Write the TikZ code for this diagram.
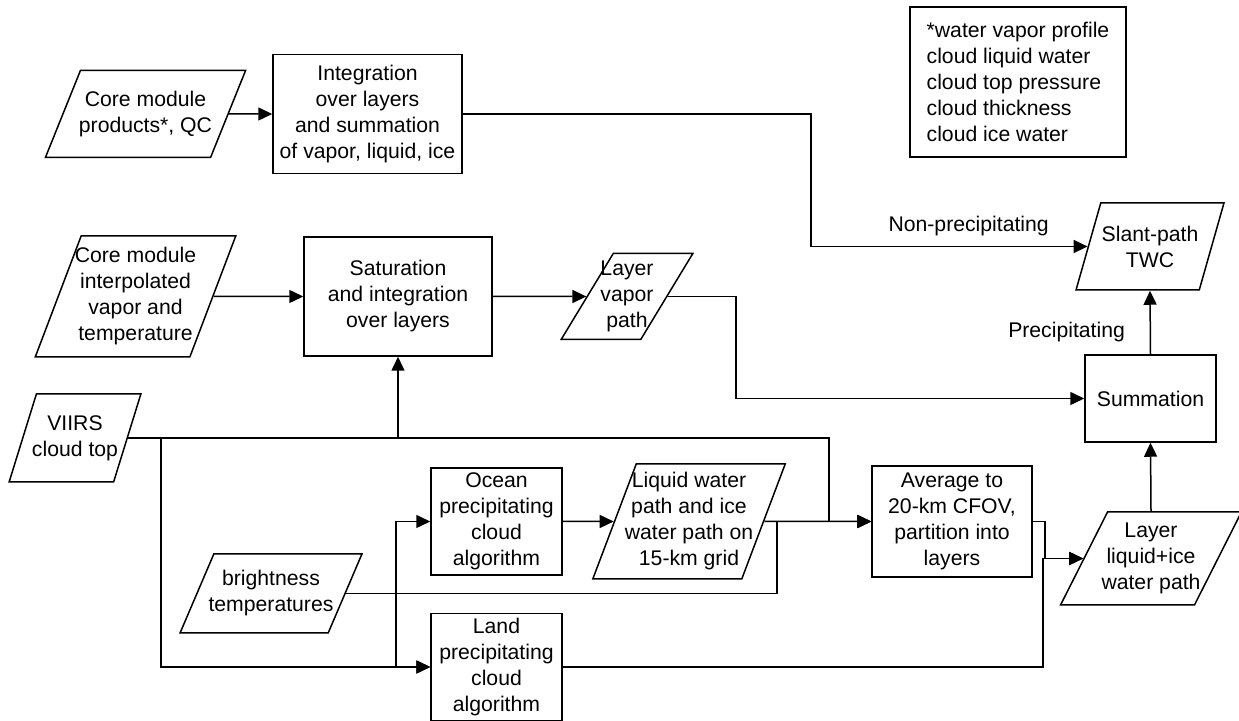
\documentclass[tikz,border=0pt]{standalone}
\usepackage{fontspec}
\setmainfont{Liberation Sans}
\usetikzlibrary{arrows.meta,shapes.geometric}

\begin{document}
\begin{tikzpicture}[
  x=0.5pt, y=-0.5pt,
  every node/.style={font=\fontsize{10.6}{13}\selectfont},
  procbox/.style={rectangle, draw, line width=0.75pt, align=center, inner sep=2pt},
  data/.style={trapezium, trapezium stretches=true, trapezium left angle=#1,
               trapezium right angle={180-#1}, draw, line width=0.75pt,
               align=center, inner xsep=-10pt, inner ysep=2pt},
  flow/.style={-{Triangle[length=7pt, width=6.5pt]}, line width=0.75pt},
]
\useasboundingbox (0,0) rectangle (1239,721);

\node[data=65, minimum width=100.5pt, minimum height=43.5pt] (prod) at (145.5,114) {Core module\\products*, QC};
\node[procbox, minimum width=94.5pt, minimum height=59.5pt] (integ) at (367.5,114) {Integration\\over layers\\and summation\\of vapor, liquid, ice};
\node[data=72, minimum width=100.5pt, minimum height=60.5pt] (interp) at (135.5,296.5) {Core module\\interpolated\\vapor and\\temperature};
\node[procbox, minimum width=94pt, minimum height=59.5pt] (satur) at (398,296.5) {Saturation\\and integration\\over layers};
\node[data=72.6, minimum width=66pt, minimum height=43pt] (lvap) at (627,296.5) {Layer\\vapor\\path};
\node[data=74, minimum width=74pt, minimum height=43.5pt] (slant) at (1150,246.5) {Slant-path\\TWC};
\node[procbox, minimum width=65.5pt, minimum height=43.5pt] (summ) at (1150.5,398.5) {Summation};
\node[data=73, minimum width=66pt, minimum height=44pt] (viirs) at (75,438) {VIIRS\\cloud top};
\node[procbox, minimum width=65.5pt, minimum height=53.5pt] (ocean) at (496.5,521.5) {Ocean\\precipitating\\cloud\\algorithm};
\node[data=71, minimum width=97pt, minimum height=57.5pt] (lwp) at (689,521.5) {Liquid water\\path and ice\\water path on\\15-km grid};
\node[procbox, minimum width=80pt, minimum height=55.5pt] (avg) at (952,521.5) {Average to\\20-km CFOV,\\partition into\\layers};
\node[data=65, minimum width=91pt, minimum height=39.5pt] (bright) at (271,593.5) {brightness\\temperatures};
\node[procbox, minimum width=65.5pt, minimum height=53.5pt] (land) at (496.5,667) {Land\\precipitating\\cloud\\algorithm};
\node[data=68, minimum width=91pt, minimum height=46.5pt] (lliq) at (1151,558.5) {Layer\\liquid+ice\\water path};
\node[procbox, align=left, minimum width=108pt, minimum height=75pt] (note) at (1018,82) {*water vapor profile\\cloud liquid water\\cloud top pressure\\cloud thickness\\cloud ice water};

% bend columns
\coordinate (cA) at (811,0);
\coordinate (cB) at (736,0);
\coordinate (cC) at (829,0);
\coordinate (cE) at (161,0);
\coordinate (cF) at (396,0);
\coordinate (cG) at (777,0);
\coordinate (cH) at (1045,0);
\coordinate (cI) at (1043,0);

\draw[flow] (prod.east) -- (integ.west);
\draw[flow] (integ.east) -- (integ.east -| cA) |- (slant.west)
  node[pos=0.785, above=1.5pt] {Non-precipitating};
\draw[flow] (interp.east) -- (satur.west);
\draw[flow] (satur.east) -- (lvap.west);
\draw[flow] (lvap.east) -- (lvap.east -| cB) |- (summ.west);
\draw[flow] (summ.north) -- (slant.south)
  node[pos=0.35, left=9pt] {Precipitating};
\draw[flow] (lliq.north) -- (summ.south);

\draw[flow] (viirs.east) -| (satur.south);
\draw[flow] (viirs.east) -| (cC |- avg.west) -- (avg.west);
\draw[flow] (viirs.east -| cE) |- (land.west);
\draw[flow] (bright.east) -- (bright.east -| cF) |- (ocean.west);
\draw[flow] (bright.east -| cF) |- (land.west);
\draw[flow] (bright.east) -| (cG |- avg.west) -- (avg.west);
\draw[flow] (ocean.east) -- (lwp.west);
\draw[flow] (lwp.east) -- (avg.west);
\draw[flow] (avg.east) -| (cH |- lliq.west) -- (lliq.west);
\draw[flow] (land.east) -| (cI |- lliq.west) -- (lliq.west);

\end{tikzpicture}
\end{document}
